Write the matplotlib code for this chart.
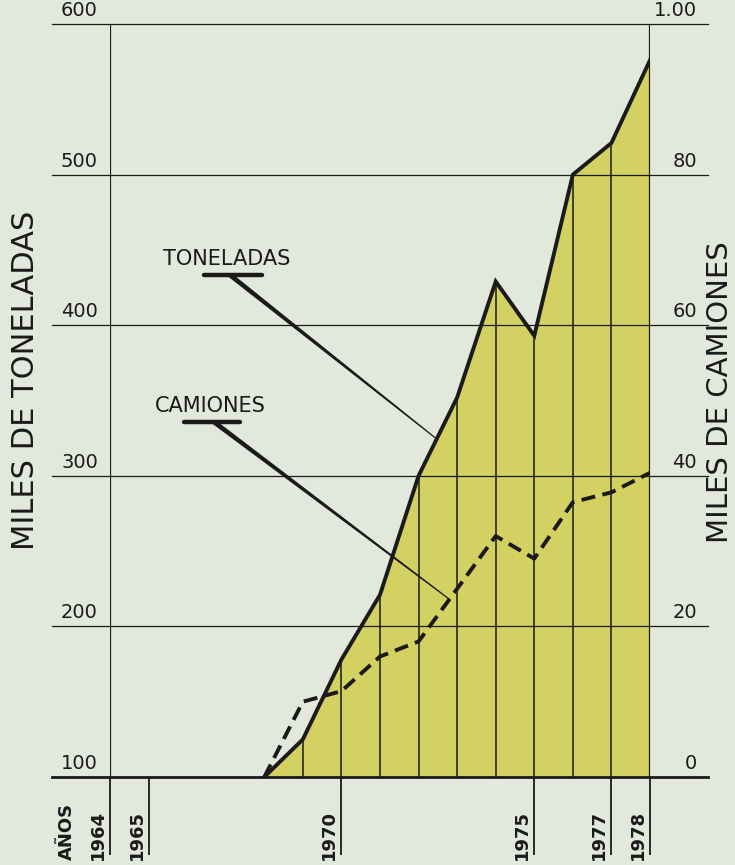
import numpy as np
import matplotlib
matplotlib.use("Agg")
import matplotlib.pyplot as plt
from matplotlib.patches import Polygon

# datos
anios = [1968, 1969, 1970, 1971, 1972, 1973, 1974, 1975, 1976, 1977, 1978]
toneladas = [100, 125, 178, 221, 300, 352, 429, 393, 500, 521, 576]   # miles de toneladas
camiones = [0, 10, 11.4, 16, 18, 25, 32, 29, 36.5, 37.8, 40.4]         # miles de camiones

ticks_ton = [100, 200, 300, 400, 500, 600]
ticks_cam = [0, 20, 40, 60, 80, 100]
labels_cam = ["0", "20", "40", "60", "80", "1.00"]
anios_marcados = [1964, 1965, 1970, 1975, 1977, 1978]

FONDO = "#e3e8dc"
AMARILLO = "#d3d162"
NEGRO = "#1a1a1a"

W, H = 735, 865
fig = plt.figure(figsize=(W / 100, H / 100), dpi=100, facecolor=FONDO)
ax = fig.add_axes([110 / W, 88 / H, 540 / W, 753 / H])
ax.set_xlim(1964, 1978)
ax.set_ylim(100, 600)
ax.set_facecolor("none")
for s in ax.spines.values():
    s.set_visible(False)
ax.set_xticks([])
ax.set_yticks([])

ax2 = ax.twinx()
ax2.set_ylim(0, 100)
ax2.set_axis_off()

# escala en pixeles, para los desplazamientos
PX_X = 540 / 14.0
PX_Y = 753 / 500.0

def dx(p):
    return p / PX_X

def dy(p):
    return p / PX_Y

x_izq = 1964 - dx(58)
x_der = 1978 + dx(58)
y_abajo = 100 - dy(78)

# relleno de toneladas
ax.fill_between(anios, 100, toneladas, color=AMARILLO, lw=0, zorder=1)

# lineas horizontales
for v in ticks_ton[1:]:
    ax.plot([x_izq, x_der], [v, v], color=NEGRO, lw=0.9, clip_on=False, zorder=2)
ax.plot([x_izq, x_der], [100, 100], color=NEGRO, lw=2.0, clip_on=False, zorder=3)

# verticales
ax.vlines(anios[1:-1], 100, toneladas[1:-1], color=NEGRO, lw=1.1, zorder=2)
ax.vlines([1964, 1978], 100, 600, color=NEGRO, lw=1.6, zorder=3)
ax.vlines(anios_marcados, y_abajo, 100, color=NEGRO, lw=1.3, clip_on=False, zorder=3)

# series
ax.plot(anios, toneladas, color=NEGRO, lw=2.8, solid_joinstyle="miter", zorder=4)
ax2.plot(anios, camiones, color=NEGRO, lw=2.8, dashes=(3.6, 1.9), zorder=4)

# etiquetas de ejes
for v in ticks_ton:
    ax.text(1964 - dx(12), v + dy(4), str(v), ha="right", va="bottom",
            fontsize=14, color=NEGRO)
for v, lab in zip(ticks_cam, labels_cam):
    ax2.text(1978 + dx(47), v + dy(4) / 5, lab, ha="right", va="bottom",
             fontsize=14, color=NEGRO)

for a in anios_marcados:
    ax.text(a - dx(3), 100 - dy(83), str(a), rotation=90, ha="right", va="bottom",
            fontsize=13, fontweight="bold", color=NEGRO)
ax.text(1964 - dx(34), 100 - dy(83), "AÑOS", rotation=90, ha="right", va="bottom",
        fontsize=13, fontweight="bold", color=NEGRO)

fig.text(26 / W, 1 - 380 / H, "MILES DE TONELADAS", rotation=90, ha="center",
         va="center", fontsize=22, color=NEGRO)
fig.text(720 / W, 1 - 392 / H, "MILES DE CAMIONES", rotation=90, ha="center",
         va="center", fontsize=21, color=NEGRO)


def leyenda(texto, x_txt, y_txt, barra, inicio, fin_x, serie, eje):
    # texto, barra bajo el texto y linea guia que se afina hasta la curva
    ax.text(x_txt, y_txt, texto, ha="left", va="baseline", fontsize=15, color=NEGRO)
    bx0, bx1, by = barra
    ax.plot([bx0, bx1], [by, by], color=NEGRO, lw=3.2, solid_capstyle="round", zorder=5)
    fin_y = np.interp(fin_x, anios, serie)
    p0 = ax.transData.transform((inicio, by))
    p1 = eje.transData.transform((fin_x, fin_y))
    d = p1 - p0
    n = np.array([-d[1], d[0]]) / np.hypot(*d)
    pts = [p0 + n * 2.4, p1 + n * 0.6, p1 - n * 0.6, p0 - n * 2.4]
    fig.patches.append(Polygon(pts, closed=True, transform=None, color=NEGRO, lw=0, zorder=5))


leyenda("TONELADAS", 1964 + dx(53), 100 + dy(512),
        (1964 + dx(94), 1964 + dx(152), 100 + dy(502)),
        1964 + dx(120), 1972.47, toneladas, ax)
leyenda("CAMIONES", 1964 + dx(45), 100 + dy(365),
        (1964 + dx(74), 1964 + dx(130), 100 + dy(355)),
        1964 + dx(104), 1972.8, camiones, ax2)

fig.savefig("out.png", dpi=100, facecolor=FONDO)
